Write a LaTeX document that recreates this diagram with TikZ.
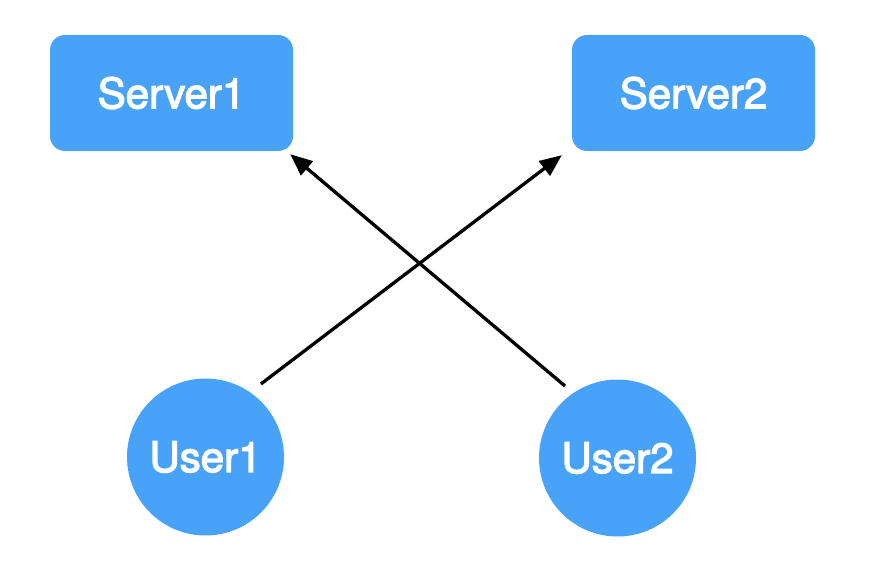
\documentclass[tikz,border=0pt]{standalone}
\usepackage{fontspec}
\setmainfont{TeX Gyre Heros}
\newfontfamily\labelfont{TeX Gyre Heros}[FakeBold=3]
\usetikzlibrary{arrows.meta,calc}
\definecolor{nodeblue}{HTML}{48A2F7}
\tikzset{
  server/.style={fill=nodeblue, rounded corners=15pt, minimum width=243pt, minimum height=116pt,
    inner sep=0pt, text=white, font=\labelfont\fontsize{42}{50}\selectfont},
  user/.style={circle, fill=nodeblue, minimum size=157pt, inner sep=0pt, text=white,
    font=\labelfont\fontsize{42}{50}\selectfont},
  link/.style={line width=3.3pt, -{Triangle[length=22pt,width=18pt]}}
}
\begin{document}
\begin{tikzpicture}[x=1pt,y=1pt]
  \useasboundingbox (0,0) rectangle (890,568);
  % servers on top, users below
  \node[server] (s1) at (171.5,475) {Server1};
  \node[server] (s2) at (693.5,475) {Server2};
  \node[user] (u1) at (205.5,111) {User1};
  \node[user] (u2) at (617.5,110) {User2};
  % connector ends, offset from the shapes
  \coordinate (u1out) at ($(u1.center)+(52.8:91.7)$);
  \coordinate (u2out) at ($(u2.center)+(126.1:89.1)$);
  \coordinate (s2in) at ($(s2.south west)+(-10,-4)$);
  \coordinate (s1in) at ($(s1.south east)+(-3,-3)$);
  % crossing requests
  \draw[link] (u1out) -- (s2in);
  \draw[link] (u2out) -- (s1in);
\end{tikzpicture}
\end{document}
